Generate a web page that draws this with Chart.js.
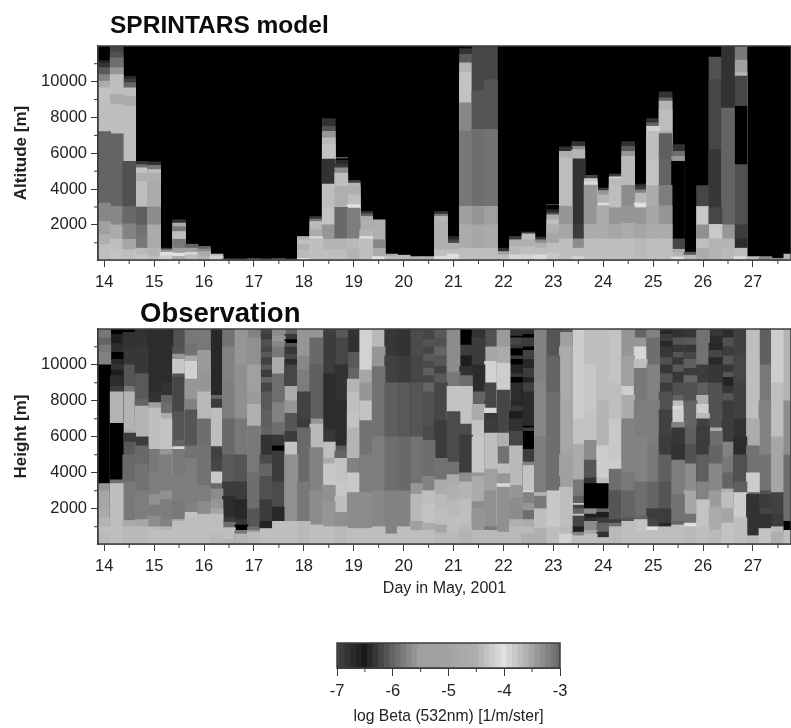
<!DOCTYPE html>
<html lang="en">
<head>
<meta charset="UTF-8">
<title>SPRINTARS model vs Observation</title>
<script src="https://cdn.jsdelivr.net/npm/chart.js"></script>
<style>
    html, body { margin: 0; padding: 0; background: #fff; width: 791px; height: 728px; overflow: hidden; }
    canvas { position: absolute; display: block; filter: blur(0.5px); }
    .heading { position: absolute; font-family: "Liberation Sans", Arial, sans-serif; font-weight: bold; color: #0c0c0c; white-space: nowrap; filter: blur(0.3px); }
</style>
</head>
<body>
<div class="heading" style="left:110px;top:11px;font-size:24.5px">SPRINTARS model</div>
<div class="heading" style="left:140px;top:297px;font-size:27.5px">Observation</div>
<canvas id="model" style="left:0;top:0"></canvas>
<canvas id="obs" style="left:0;top:300px"></canvas>
<canvas id="bar" style="left:300px;top:630px"></canvas>
<script>
// one entry per 6 hours, starting at 14.0
const days = [14,14.25,14.5,14.75,15,15.25,15.5,15.75,16,16.25,16.5,16.75,17,17.25,17.5,17.75,18,18.25,18.5,18.75,19,19.25,19.5,19.75,20,20.25,20.5,20.75,21,21.25,21.5,21.75,22,22.25,22.5,22.75,23,23.25,23.5,23.75,24,24.25,24.5,24.75,25,25.25,25.5,25.75,26,26.25,26.5,26.75,27,27.25,27.5,27.75];
const dayTicks = [14,15,16,17,18,19,20,21,22,23,24,25,26,27];
const halfDays = [14.5,15.5,16.5,17.5,18.5,19.5,20.5,21.5,22.5,23.5,24.5,25.5,26.5,27.5];
const heightTicks = [2000,4000,6000,8000,10000];
const oddHeights = [1000,3000,5000,7000,9000,11000];
const barTicks = [-7,-6,-5,-4,-3];
const barMinor = [-6.5,-5.5,-4.5,-3.5];

// colour scale
const scaleValues = [-7,-6.5,-6,-5.5,-5,-4.5,-4,-3.5,-3];
const scaleGrays = [70,25,100,160,162,175,225,165,105];
const barValues = [-7,-6.9,-6.8,-6.7,-6.6,-6.5,-6.4,-6.3,-6.2,-6.1,-6,-5.9,-5.8,-5.7,-5.6,-5.5,-5.4,-5.3,-5.2,-5.1,-5,-4.9,-4.8,-4.7,-4.6,-4.5,-4.4,-4.3,-4.2,-4.1,-4,-3.9,-3.8,-3.7,-3.6,-3.5,-3.4,-3.3,-3.2,-3.1,-3];

// each column: top of layer [m], log beta, top of next layer, log beta ... (-9 = nothing, black)
const modelColumns = [
  [890,-4.35,1450,-4.5,2190,-5.5,3220,-5.71,7210,-6,8820,-4.35,9660,-4.3,10030,-4.65,10400,-5.75,10780,-6.07,11050,-6.33,11190,-6.47],
  [610,-4.3,1200,-4.35,2000,-4.65,3030,-5.71,7080,-6,8720,-4.35,9280,-4.65,10400,-4.35,10780,-5.58,11330,-5.92,11610,-6.13,11990,-6.2],
  [610,-4.35,1200,-4.85,2060,-5.75,3030,-5.96,5550,-6.13,8630,-4.35,9190,-4.65,9660,-4.35,9950,-6,10140,-6.27,10290,-6.4],
  [330,-4.3,700,-4.4,1350,-5.83,2000,-5.88,3000,-6.03,4430,-4.35,4900,-4.5,5180,-4.3,5370,-5.92,5550,-6.33],
  [240,-4.35,700,-4.45,2000,-4.65,3000,-5.67,4430,-4.65,4900,-4.5,5090,-4.35,5330,-5.83,5520,-6.33],
  [280,-4.2,470,-4,610,-5.58,700,-6.27],
  [240,-4.65,420,-4,700,-5.5,1200,-5.83,1630,-4.35,1900,-5.83,2100,-4.65,2290,-6.33],
  [330,-4.35,470,-4.1,700,-5.5,925,-6],
  [240,-4.45,520,-4.65,650,-5.67,800,-6],
  [240,-4.15,370,-4.35],
  [100,-6],[95,-6],[110,-5.8],[100,-6],[110,-5.8],[90,-6],
  [140,-4,610,-4.4,890,-4.5,1170,-4.35,1355,-4.5],
  [1220,-4.35,1355,-4.1,1730,-4.65,2195,-4.4,2330,-5.83,2475,-6.33],
  [610,-4.35,1200,-4.45,2005,-5.58,2940,-4.3,4285,-4.35,5680,-6.33,6480,-4.3,6860,-4.4,7230,-5.58,7510,-6.13,7940,-6.33],
  [610,-4.35,1220,-4.45,2980,-5.96,4150,-4.5,4900,-4.35,5180,-5.67,5365,-6.27,5610,-6.4,5700,-9,5760,-5.8],
  [700,-4.45,1220,-4.4,2940,-5.79,3130,-4,3685,-4.35,4150,-4.5,4340,-4.45,4490,-6.27],
  [1220,-4.35,1355,-4,1730,-4.45,2195,-4.5,2475,-4.65,2620,-6,2755,-6.33],
  [235,-4,700,-4.65,1170,-5.71,2285,-4.5],
  [235,-4.35,370,-4.65],
  [310,-4.4],[230,-4.45],[230,-4.45],
  [235,-4.05,610,-4.35,2195,-4.5,2475,-4.45,2600,-5.83,2755,-6.33],
  [380,-4.05,610,-4.35,980,-4.5,1170,-6.2,1355,-6.4],
  [700,-4.35,2005,-4.65,3035,-5.5,7230,-5.83,8815,-5.71,10500,-4.3,11055,-4.45,11520,-6.07,11840,-6.33],
  [700,-4.35,2005,-4.85,3035,-5.58,7330,-5.92,9500,-6.1,11990,-6.2],
  [700,-4.35,2005,-4.65,3035,-5.5,7330,-5.88,10120,-6.1,11990,-6.2],
  [330,-4.35,515,-5.5,700,-6.33],
  [330,-4.1,795,-4.4,1170,-4.5,1355,-6.27],
  [330,-4.15,795,-4.35,1170,-4.5,1500,-4.35,1600,-6.27],
  [330,-4.05,700,-4.35,980,-4.5,1170,-5.67,1320,-6.33],
  [420,-4.25,980,-4.35,1540,-4.85,2005,-4.5,2285,-4.35,2570,-4.65,2700,-6.2,2850,-6.4,3090,-9,3140,-6.1],
  [1220,-4.35,2030,-4.85,3050,-5.58,5740,-4.35,6110,-4.5,6355,-6.33],
  [235,-4.15,700,-4.35,1220,-5.67,2030,-6.27,5685,-6.33,6205,-4.45,6390,-5.67,6650,-6.33],
  [1220,-4.35,2030,-4.65,4230,-5.58,4400,-4.05,4580,-4.25,4770,-6.2],
  [1220,-4.35,2030,-4.65,3070,-4.65,3220,-4.05,3685,-4.45,3920,-5.58,4060,-6.27],
  [1220,-4.35,2030,-4.85,2960,-5.58,4250,-4.35,4580,-4.4,4690,-4.1,4840,-6.27],
  [1220,-4.35,2090,-4.65,3070,-5.58,4210,-5.67,5830,-4.4,6110,-5.58,6390,-6.07,6650,-6.33],
  [1220,-4.4,2030,-4.85,2960,-5.58,3220,-4,3780,-4.4,3965,-5.75,4150,-6.27,4285,-6.4],
  [1220,-4.35,2030,-4.65,3030,-4.85,4190,-4.65,5650,-4.3,7230,-4.35,7510,-4.15,7700,-6,7940,-6.33],
  [1220,-4.35,2030,-4.65,3070,-5.58,4210,-5.79,5650,-6,7100,-6.03,7230,-4.65,8445,-4.35,8910,-4.45,9095,-6,9430,-6.33],
  [220,-4.05,460,-4.45,640,-4.65,1220,-6.2,5550,-9,5830,-5.58,6110,-5.92,6485,-6.33],
  [310,-4.4,480,-6.07],
  [700,-4.65,1220,-4.35,2000,-5.63,3030,-4.25,4200,-6.2],
  [1220,-4.45,2030,-4.25,2960,-6.2,6200,-6.3,10120,-6.2,11370,-6.13],
  [700,-4.4,1220,-4.45,2005,-5.58,8530,-6,11990,-6.33],
  [235,-4.05,700,-4.35,1220,-6.37,2005,-6.27,5370,-6.13,8620,-9,10310,-6.2,10500,-4.45,11200,-5.5,11990,-5.83],
  [230,-4.35],[230,-5.67],[140,-5.67],[370,-4.45]
];

const obsColumns = [
  [630,-4.4,1000,-4.35,1500,-4.45,2000,-4.65,3000,-4.85,3400,-5.58,10000,-9,10700,-5.75,11100,-5.83,11500,-6,12000,-5.83],
  [700,-4.35,3400,-4.35,3600,-5.92,6750,-9,8500,-4.45,8800,-6.27,9400,-6.37,9700,-6.47,10000,-6.33,10300,-6.4,10700,-9,11200,-6.37,11700,-6.47,12000,-9],
  [1000,-4.4,1350,-4.65,3500,-5.83,5000,-5.96,5700,-6.07,6200,-6.27,6400,-4.65,7000,-4.45,8500,-4.45,8800,-5.83,10000,-6.1,11000,-6.3,11800,-6.33,12000,-9],
  [1000,-4.4,1400,-4.85,3000,-5.79,4500,-5.88,5500,-5.96,6000,-6.27,7700,-4.45,8100,-6,9500,-6.07,11000,-6.3,12000,-6.33],
  [800,-4.35,1000,-4.4,1600,-5.67,2200,-5.79,2800,-5.63,4000,-5.79,5300,-5.83,7600,-4.35,7900,-5.5,8500,-6.33,12000,-6.37],
  [800,-4.35,1000,-4.45,1400,-5.75,2500,-5.79,3000,-5.63,5000,-5.79,5300,-5.58,7000,-4.3,7300,-4.65,7900,-5.92,8300,-6,9000,-6.33,12000,-6.37],
  [1300,-4.35,1400,-4.65,2400,-5.83,3800,-5.79,5300,-5.83,5450,-4.1,5800,-6,7400,-6.1,9300,-6.2,9500,-6.1,10300,-4.25,10600,-5.58,11000,-6.1,12000,-6.13],
  [1500,-4.35,1800,-4.3,2300,-5.75,4800,-5.79,5500,-5.88,7500,-6.1,8100,-5.75,9200,-5.58,10200,-4.15,10500,-4.65,11200,-5.88,12000,-5.83],
  [1700,-4.35,2400,-5.67,3300,-5.79,5500,-5.88,7000,-5.92,8500,-4.4,9600,-5.58,10800,-5.54,12000,-5.83],
  [600,-4.4,1700,-4.35,2000,-4.85,2500,-5.58,3100,-5.67,3400,-5.96,4050,-4.25,4800,-6.2,5450,-6.23,7600,-4.35,8100,-6.27,8300,-6,8500,-6.4,12000,-6.4],
  [300,-4.45,950,-4.35,1250,-5.92,1500,-6.27,2700,-6.37,3500,-6.27,5000,-6.07,7000,-5.96,9000,-5.79,11000,-5.75,12000,-5.88],
  [600,-4.45,800,-5.83,1100,-7.5,1400,-6.3,2500,-6.4,3500,-6.27,5000,-6.1,7000,-5.83,10000,-5.63,12000,-5.58],
  [700,-4.4,800,-5.58,1000,-5.92,2000,-6.1,4000,-5.92,6600,-5.83,7800,-4.5,8500,-5.54,10000,-5.5,11500,-5.63,12000,-5.75],
  [900,-4.35,1300,-6.43,2500,-6.27,3800,-6.13,4500,-6,5000,-6.17,6100,-6.33,6500,-6,7500,-6.03,8500,-6.07,9000,-6.2,9300,-6,9700,-6.27,10000,-6.07,10400,-6.23,10700,-6.07,11000,-6.2,11400,-6.13,11700,-6.27,12000,-6.2],
  [1300,-4.35,2100,-6.4,3500,-6.17,5200,-6.27,5500,-7.5,6100,-6.3,6800,-5.92,7900,-5.75,9500,-5.92,10400,-4.65,11000,-5.83,11300,-5.7,11600,-5.58,12000,-5.67],
  [1300,-4.35,5000,-5.63,5700,-4.3,6300,-6.27,7300,-6.1,8000,-5.58,8800,-4.65,10000,-6.2,10300,-6.37,10600,-6.2,11000,-6.3,11200,-6.1,11400,-7.5,11700,-6.3,12000,-6],
  [1300,-4.4,3500,-5.83,6500,-5.96,7000,-6.27,8500,-6.23,9700,-5.79,10500,-5.71,12000,-5.58],
  [1100,-4.35,3000,-5.67,5400,-5.75,6700,-4.4,7000,-5.58,10000,-6.03,11500,-5.96,12000,-5.58],
  [1000,-4.35,2400,-5.58,3300,-5.63,4500,-4.25,4800,-4.65,5700,-4.35,6400,-6.3,9500,-6.37,11800,-6.27,12000,-6.23],
  [1000,-4.4,1800,-5.63,2700,-4.35,3500,-4.25,4800,-4.3,5200,-6,5500,-6.07,8000,-6.37,10000,-6.33,11500,-6.2,12000,-6.07],
  [900,-4.35,2900,-5.67,4000,-4.25,4800,-5.75,5700,-4.45,6500,-4.45,7500,-4.3,8500,-4.35,9200,-4.45,9800,-6,10700,-6.07,12000,-6.33],
  [900,-4.35,2900,-5.67,5000,-5.79,6900,-5.88,8000,-4.3,9000,-5.58,9700,-4.85,12000,-4.15],
  [1000,-4.35,3000,-5.71,6000,-5.79,9900,-5.88,11000,-5.58,12000,-4.4],
  [600,-4.35,3000,-5.75,6000,-5.92,9000,-6.03,10500,-6.23,12000,-6.3],
  [1000,-4.35,3000,-5.75,6000,-5.96,9000,-6.07,10500,-6.27,12000,-6.33],
  [800,-4.35,1300,-5.5,2800,-4.4,3400,-5.58,6000,-5.88,9000,-6.1,10500,-6.2,12000,-6.17],
  [800,-4.35,1200,-4.65,2300,-4.3,3000,-4.35,3800,-5.75,5800,-5.92,6600,-6.17,8500,-6.13,9000,-6,9400,-6.2,9800,-6.03,10200,-6.17,10600,-6.07,11000,-6.2,11400,-6.1,12000,-6.2],
  [650,-4.4,1100,-4.85,2000,-4.35,2800,-4.4,3600,-4.65,4800,-5.88,6900,-6.27,9000,-6.2,9500,-6.07,9900,-6.23,10500,-6.1,11000,-6,11500,-6.13,12000,-6.07],
  [700,-4.4,1600,-4.35,2500,-4.4,3300,-4.5,3900,-4.65,4600,-5.88,7400,-6.17,8800,-4.3,9600,-5.83,12000,-5.67],
  [800,-4.45,1100,-4.4,2500,-4.35,3500,-4.45,4000,-5.67,6100,-6.27,6700,-6.17,8800,-4.3,9400,-5.92,9900,-6.33,10500,-6.47,11100,-6.27,11600,-7.5,12000,-7.5],
  [800,-4.4,2000,-5.58,2400,-5.67,3800,-4.65,4000,-5.58,6000,-4.25,6900,-4.3,7800,-4.65,8500,-6,10000,-6.37,11500,-6.27,12000,-6.33],
  [800,-4.4,1000,-5.83,3000,-5.63,4200,-5.5,6200,-4.35,7000,-6.27,7300,-6.3,7600,-4.1,8000,-6.2,9000,-6.2,10200,-4.15,11000,-4.85,12000,-6.13],
  [700,-4.4,3200,-5.63,3400,-4.1,3950,-5.58,4500,-4.35,5450,-5.88,6200,-4.5,8600,-6.2,10100,-4.2,11000,-4.65,12000,-5.54],
  [1000,-4.4,1400,-4.5,2600,-5.67,3300,-5.58,5500,-4.4,6300,-6.2,7000,-6.33,7400,-6.47,7700,-6.3,8000,-6.4,9000,-6.37,9300,-7.5,9500,-6.3,10000,-6.43,10300,-7.5,10500,-6.27,10900,-7.5,11100,-6.3,11500,-6.2,11600,-7.5,12000,-6.33],
  [600,-4.5,1000,-4.4,1400,-4.65,1900,-5.92,2300,-5.58,2900,-5.75,3000,-4.1,4400,-4.3,4600,-5.75,5300,-6.27,6300,-9,6500,-6.27,6600,-7.5,8500,-6.37,9000,-6.23,9300,-6.43,9800,-6.27,10300,-6.4,10800,-6.23,11000,-7.5,11500,-6.27,11700,-7.5,12000,-6.33],
  [900,-4.5,2000,-4.35,2700,-5.83,2900,-4.45,6000,-5.79,9000,-5.71,11000,-5.75,12000,-5.75],
  [1000,-4.35,3000,-4.25,3800,-5.92,8500,-5.92,10500,-6,12000,-6.1],
  [600,-4.15,1000,-4.4,3200,-4.35,5000,-5.5,8000,-4.85,11000,-4.65,11800,-5.5,12000,-6.07],
  [500,-4.35,700,-5.75,1000,-6.47,1600,-6.2,1700,-4.25,2000,-6,2200,-6.2,2300,-4.25,2700,-6.03,3600,-5.83,5600,-4.65,7000,-4.3,10000,-4.2,12000,-4.2],
  [600,-4.35,800,-4.85,1300,-5.67,1500,-6.33,1700,-6.47,2000,-5.67,3400,-9,3700,-6.33,4700,-6.1,5800,-5.67,7500,-4.3,10000,-4.25,12000,-4.35],
  [400,-4.35,700,-6.33,1200,-6,1500,-6.27,1800,-6.47,2000,-6,3400,-9,3700,-4.35,5500,-4.2,8000,-4.45,12000,-4.35],
  [1000,-4.4,1200,-5.92,1400,-6.27,3000,-6.1,4200,-5.92,4700,-4.2,7000,-4.25,9000,-4.35,12000,-4.3],
  [1300,-4.35,1500,-6.1,3000,-6,4000,-5.83,7000,-5.75,8300,-4.65,8800,-4.2,10500,-5.5,12000,-5.58],
  [700,-4.35,1400,-4.3,1600,-6,3500,-5.92,6000,-5.75,8000,-5.79,9800,-5.83,10300,-4.35,11000,-4.1,11500,-5.58,12000,-6],
  [800,-4.35,1000,-4,1400,-6.2,2000,-6.27,3500,-6,5500,-5.83,8000,-5.79,10000,-5.75,11500,-5.92,12000,-5.75],
  [1000,-4.35,1200,-6.4,2000,-6.27,3500,-6.1,5000,-6.03,6000,-6.27,7500,-6.23,8500,-6.13,9000,-6.27,9500,-6.1,10000,-6.3,10400,-6.13,11000,-6.3,11300,-6.4,11700,-6.27,12000,-6.4],
  [1100,-4.35,1300,-6,2800,-5.88,4700,-5.79,5600,-6.33,6500,-6.3,6800,-5.75,7500,-4.2,7700,-4.1,8000,-4.35,8300,-6,9000,-6.13,9600,-6.3,10000,-6.07,10400,-6.3,10700,-6.1,11100,-6.3,11500,-6.1,12000,-6.33],
  [1000,-4.4,1200,-4,1700,-5.88,3000,-4.85,4500,-5.67,5600,-6.13,6500,-6.03,8000,-6,9000,-6.13,9400,-6,9800,-6.27,10300,-6.03,10700,-6.2,11100,-6.3,11500,-6.07,12000,-6.3],
  [1000,-4.35,2500,-4.3,3500,-5.75,5000,-6.03,6600,-6.27,7000,-6.23,7300,-4.4,7800,-4.2,8300,-4.5,9000,-6.03,10000,-6.27,12000,-5.88],
  [800,-4.4,2100,-4.65,3000,-5.54,4500,-5.71,5500,-6,6300,-5.92,6500,-4.65,9000,-6.13,10000,-6.3,10400,-6.4,10800,-6.2,11200,-6.4,11600,-6.37,12000,-6.3],
  [1200,-4.3,2000,-4.85,2900,-4.35,3100,-4.5,4000,-6,4900,-5.83,5700,-5.75,6800,-6.27,8000,-6.27,8400,-6.1,8800,-6.3,9300,-6.43,9600,-6.1,10000,-6.3,10500,-6.1,11000,-6.27,11500,-6.13,12000,-6.37],
  [1500,-4.35,2900,-4.2,3500,-6.03,5000,-6.13,6000,-6.37,7000,-6.33,9000,-6.23,10500,-6.2,12000,-6.23],
  [500,-4.4,2800,-6.33,2900,-6,4000,-4.2,5500,-5.88,7000,-4.65,12000,-4.35],
  [900,-4.3,1700,-6.33,2000,-6.2,2800,-6.27,3000,-6.13,5000,-5.88,8000,-5.75,10000,-5.83,12000,-6.03],
  [700,-4.5,1000,-4.4,1700,-6.27,2900,-6.23,3000,-4.85,6000,-4.85,9000,-4.35,12000,-4.2],
  [800,-4.35,1300,-7.5,2800,-5.92,5000,-5.92,8000,-5.67,12000,-4.45]
];

function shade(v) {
    let g = 0;
    for (let i = 0; i < scaleValues.length - 1; i++) {
        if (v >= scaleValues[i] && v <= scaleValues[i + 1]) {
            const t = (v - scaleValues[i]) / (scaleValues[i + 1] - scaleValues[i]);
            g = Math.round(scaleGrays[i] + t * (scaleGrays[i + 1] - scaleGrays[i]));
        }
    }
    return 'rgb(' + g + ',' + g + ',' + g + ')';
}

// lowest layer is the first dataset so it is painted last, on top of the higher ones
function layers(columns) {
    const sets = [];
    columns.forEach((col, c) => {
        for (let k = 0; k < col.length; k += 2) {
            const n = k / 2;
            if (!sets[n]) sets[n] = { data: [], backgroundColor: [], barThickness: 13, grouped: false };
            sets[n].data.push({ x: days[c], y: col[k] });
            sets[n].backgroundColor.push(shade(col[k + 1]));
        }
    });
    return sets;
}

const axisColor = '#3c3c3c';
const labelFont = '"Liberation Sans", Arial, sans-serif';

// black plot background and frame
const framePlugin = {
    id: 'frame',
    beforeDatasetsDraw(chart, args, opts) {
        const a = chart.chartArea;
        if (opts.fill) {
            chart.ctx.fillStyle = opts.fill;
            chart.ctx.fillRect(a.left, a.top, a.width, a.height);
        }
    },
    afterDraw(chart, args, opts) {
        const a = chart.chartArea, ctx = chart.ctx;
        ctx.save();
        ctx.strokeStyle = axisColor;
        ctx.lineWidth = 1.5;
        ctx.strokeRect(a.left, a.top, a.width, a.height);
        // short in-between ticks
        ctx.lineWidth = 1;
        ctx.beginPath();
        (opts.minorX || []).forEach(v => {
            const p = chart.scales.x.getPixelForValue(v);
            ctx.moveTo(p, a.bottom);
            ctx.lineTo(p, a.bottom + 4);
        });
        (opts.minorY || []).forEach(v => {
            const p = chart.scales.y.getPixelForValue(v);
            ctx.moveTo(a.left, p);
            ctx.lineTo(a.left - 4, p);
        });
        ctx.stroke();
        ctx.restore();
    }
};

function panel(id, columns, yTitle, xTitle, size, area) {
    const cv = document.getElementById(id);
    cv.width = 791;
    cv.height = size;
    cv.style.width = '791px';
    cv.style.height = size + 'px';
    return new Chart(cv, {
        type: 'bar',
        data: { datasets: layers(columns) },
        plugins: [framePlugin],
        options: {
            responsive: false,
            animation: false,
            events: [],
            layout: { padding: { top: area.top, left: 0, right: 0, bottom: 0 } },
            plugins: {
                legend: { display: false },
                tooltip: { enabled: false },
                frame: { fill: '#000', minorX: halfDays, minorY: oddHeights }
            },
            scales: {
                x: {
                    type: 'linear',
                    offset: false,
                    min: 13.875,
                    max: 27.763,
                    afterBuildTicks(s) { s.ticks = dayTicks.map(v => ({ value: v })); },
                    afterFit(s) { s.height = size - area.bottom; },
                    ticks: {
                        autoSkip: false,
                        maxRotation: 0,
                        color: '#222',
                        padding: 6,
                        font: { family: labelFont, size: 16.5 }
                    },
                    grid: { offset: false, drawOnChartArea: false, tickLength: 7, color: axisColor },
                    border: { color: axisColor, width: 1.5 },
                    title: {
                        display: !!xTitle,
                        text: xTitle,
                        color: '#222',
                        padding: { top: 0, bottom: 2 },
                        font: { family: labelFont, size: 16 }
                    }
                },
                y: {
                    min: 40,
                    max: 11990,
                    afterBuildTicks(s) { s.ticks = heightTicks.map(v => ({ value: v })); },
                    afterFit(s) { s.width = 98; },
                    ticks: {
                        autoSkip: false,
                        color: '#222',
                        padding: 4,
                        font: { family: labelFont, size: 16.5 },
                        callback: v => String(v)
                    },
                    grid: { drawOnChartArea: false, tickLength: 7, color: axisColor },
                    border: { color: axisColor, width: 1.5 },
                    title: {
                        display: true,
                        text: yTitle,
                        color: '#222',
                        padding: { top: 11, bottom: 0 },
                        font: { family: labelFont, size: 17, weight: 'bold' }
                    }
                }
            }
        }
    });
}

panel('model', modelColumns, 'Altitude [m]', '', 300, { top: 46, bottom: 260 });
panel('obs', obsColumns, 'Height [m]', 'Day in May, 2001', 300, { top: 29, bottom: 244 });

// colour bar
const barCv = document.getElementById('bar');
barCv.width = 300;
barCv.height = 98;
barCv.style.width = '300px';
barCv.style.height = '98px';
new Chart(barCv, {
    type: 'bar',
    data: {
        datasets: [{
            data: barValues.map(v => ({ x: v, y: 1 })),
            backgroundColor: barValues.map(shade),
            barThickness: 6.2
        }]
    },
    plugins: [framePlugin],
    options: {
        responsive: false,
        animation: false,
        events: [],
        layout: { padding: { top: 13, left: 37, right: 40, bottom: 0 } },
        plugins: {
            legend: { display: false },
            tooltip: { enabled: false },
            frame: { minorX: barMinor }
        },
        scales: {
            x: {
                type: 'linear',
                offset: false,
                min: -7,
                max: -3,
                afterBuildTicks(s) { s.ticks = barTicks.map(v => ({ value: v })); },
                afterFit(s) { s.height = 60; },
                ticks: {
                    autoSkip: false,
                    maxRotation: 0,
                    color: '#222',
                    padding: 6,
                    font: { family: labelFont, size: 16.5 },
                    callback: v => String(v)
                },
                grid: { offset: false, drawOnChartArea: false, tickLength: 8, color: axisColor },
                border: { color: axisColor },
                title: {
                    display: true,
                    text: 'log Beta (532nm) [1/m/ster]',
                    color: '#222',
                    padding: { top: 0, bottom: 2 },
                    font: { family: labelFont, size: 15.7 }
                }
            },
            y: { display: false, min: 0, max: 1 }
        }
    }
});
</script>
</body>
</html>
